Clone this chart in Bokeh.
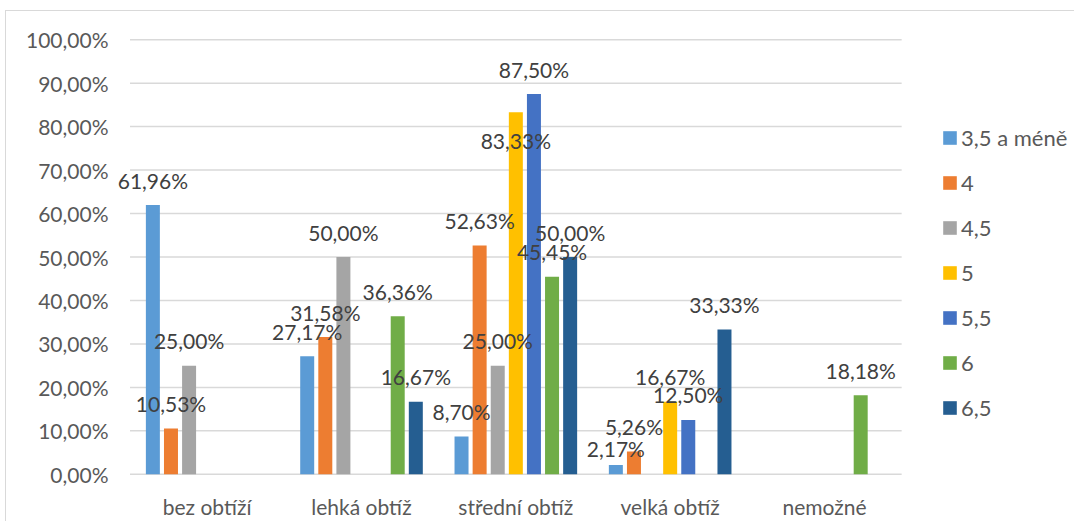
from bokeh.plotting import figure
from bokeh.models import (ColumnDataSource, FactorRange, Legend, LegendItem,
                          CustomJSTickFormatter, FixedTicker, Range1d)
from bokeh.transform import dodge
from bokeh.core.properties import value
from bokeh.embed import file_html
from bokeh.resources import INLINE

categories = ["bez obtíží", "lehká obtíž", "střední obtíž", "velká obtíž", "nemožné"]
series_names = ["3,5 a méně", "4", "4,5", "5", "5,5", "6", "6,5"]

s_35 = [61.96, 27.17, 8.70, 2.17, 0.0]
s_4 = [10.53, 31.58, 52.63, 5.26, 0.0]
s_45 = [25.00, 50.00, 25.00, 0.0, 0.0]
s_5 = [0.0, 0.0, 83.33, 16.67, 0.0]
s_55 = [0.0, 0.0, 87.50, 12.50, 0.0]
s_6 = [0.0, 36.36, 45.45, 0.0, 18.18]
s_65 = [0.0, 16.67, 50.00, 33.33, 0.0]
series_values = [s_35, s_4, s_45, s_5, s_55, s_6, s_65]

y_ticks = [0, 10, 20, 30, 40, 50, 60, 70, 80, 90, 100]

colors = ["#5B9BD5", "#ED7D31", "#A5A5A5", "#FFC000", "#4472C4", "#70AD47", "#255E91"]

# label nudges (pixels) reproducing Excel's overlap-avoidance
label_nudge = {
    ("střední obtíž", "5"): (0, 53),
    ("velká obtíž", "3,5 a méně"): (0, 9),
}

FONT = "Lato"

# an empty trailing factor leaves room inside the frame for the legend
p = figure(x_range=FactorRange(*categories, " ", range_padding=0.12,
                               range_padding_units="absolute"),
           y_range=Range1d(-0.5, 100.5),
           frame_width=963, frame_height=439,
           output_backend="svg", toolbar_location=None,
           min_border_left=105, min_border_top=26, min_border_bottom=40,
           min_border_right=0,
           styles={"margin-left": "5px", "margin-top": "10px",
                   "border-left": "1px solid #d9d9d9",
                   "border-top": "1px solid #d9d9d9"})
p.outline_line_color = None
p.xgrid.grid_line_color = None
p.ygrid.grid_line_color = None

# horizontal gridlines spanning only the category area
n = len(categories)
p.segment(x0=[0] * len(y_ticks), x1=[n] * len(y_ticks), y0=y_ticks, y1=y_ticks,
          line_color="#d9d9d9", line_width=1.5)

pitch = 0.1173
bw = 0.0907
legend_items = []
sources = []
for j, (name, vals) in enumerate(zip(series_names, series_values)):
    off = (j - 3) * pitch
    labels = [f"{v:.2f}".replace(".", ",") + "%" if v > 0 else "" for v in vals]
    xo = [label_nudge.get((c, name), (0, 0))[0] for c in categories]
    yo = [-25 + label_nudge.get((c, name), (0, 0))[1] for c in categories]
    src = ColumnDataSource(dict(cat=categories, val=vals, lab=labels, xo=xo, yo=yo))
    sources.append((off, src))
    r = p.vbar(x=dodge("cat", off, range=p.x_range), top="val", bottom=0, width=bw,
               source=src, fill_color=colors[j], line_color=None)
    legend_items.append(LegendItem(label=name, renderers=[r]))

# data labels drawn above all bars
for off, src in sources:
    p.text(x=dodge("cat", off, range=p.x_range), y="val", text="lab", source=src,
           x_offset="xo", y_offset="yo", text_align="center", text_baseline="middle",
           text_font=value(FONT), text_font_size="21px", text_color="#404040")

p.yaxis.ticker = FixedTicker(ticks=y_ticks)
p.yaxis.formatter = CustomJSTickFormatter(
    code="return tick.toFixed(2).replace('.', ',') + '%';")
for ax in (p.xaxis, p.yaxis):
    ax.axis_line_color = None
    ax.major_tick_line_color = None
    ax.minor_tick_line_color = None
    ax.major_tick_out = 0
    ax.major_tick_in = 0
    ax.major_label_text_font = FONT
    ax.major_label_text_font_size = "21px"
    ax.major_label_text_color = "#595959"
p.yaxis.major_label_standoff = 3
p.xaxis.major_label_standoff = 17

legend = Legend(items=legend_items, location=(830, 55), orientation="vertical",
                glyph_width=17, glyph_height=17, label_height=27, spacing=18,
                label_standoff=3, padding=0, margin=0,
                label_text_font=FONT, label_text_font_size="22px",
                label_text_color="#595959", border_line_alpha=0,
                background_fill_alpha=0)
p.add_layout(legend, "center")

open("out.html", "w").write(file_html(p, INLINE))
